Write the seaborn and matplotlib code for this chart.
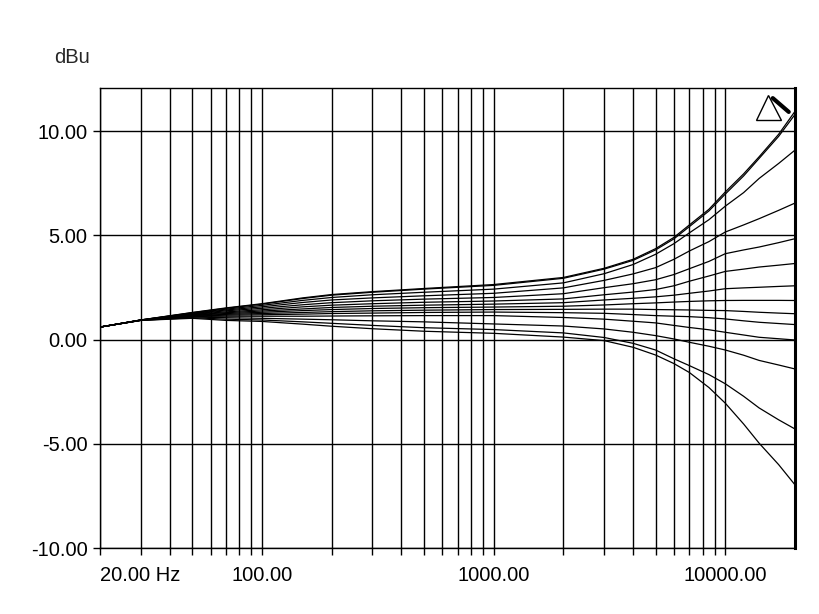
import numpy as np
import pandas as pd
import seaborn as sns
from matplotlib import pyplot as plt
from matplotlib.ticker import FixedLocator, NullFormatter

# frecuencias donde se leyeron los valores (Hz)
freq = [20, 30, 50, 70, 100, 150, 200, 300, 500, 1000, 2000, 3000, 4000, 5000,
        6000, 7000, 8500, 10000, 12000, 14000, 17000, 20000]

# curvas (dBu), de arriba a abajo en 20 kHz
c1 = [0.60, 0.94, 1.30, 1.52, 1.72, 2.00, 2.16, 2.30, 2.45, 2.64, 2.98, 3.42, 3.85, 4.36, 4.90, 5.50, 6.25, 7.08, 7.95, 8.77, 9.85, 10.95]
c2 = [0.60, 0.94, 1.29, 1.50, 1.70, 1.97, 2.13, 2.27, 2.42, 2.60, 2.94, 3.38, 3.80, 4.30, 4.83, 5.42, 6.17, 6.98, 7.85, 8.69, 9.75, 10.80]
c3 = [0.60, 0.94, 1.27, 1.46, 1.64, 1.88, 2.02, 2.15, 2.27, 2.42, 2.72, 3.16, 3.60, 4.09, 4.60, 5.12, 5.75, 6.40, 7.05, 7.73, 8.45, 9.09]
c4 = [0.60, 0.94, 1.25, 1.42, 1.57, 1.78, 1.90, 2.00, 2.10, 2.22, 2.48, 2.84, 3.15, 3.45, 3.85, 4.25, 4.70, 5.16, 5.50, 5.80, 6.20, 6.55]
c5 = [0.60, 0.93, 1.23, 1.38, 1.50, 1.67, 1.77, 1.86, 1.94, 2.02, 2.20, 2.49, 2.68, 2.87, 3.12, 3.40, 3.75, 4.12, 4.30, 4.44, 4.65, 4.84]
c6 = [0.60, 0.93, 1.21, 1.33, 1.43, 1.57, 1.65, 1.72, 1.79, 1.85, 1.95, 2.15, 2.28, 2.40, 2.58, 2.80, 3.05, 3.27, 3.38, 3.48, 3.57, 3.65]
c7 = [0.60, 0.93, 1.19, 1.29, 1.37, 1.47, 1.54, 1.60, 1.65, 1.70, 1.77, 1.90, 1.98, 2.05, 2.13, 2.22, 2.33, 2.44, 2.48, 2.51, 2.55, 2.58]
c8 = [0.60, 0.93, 1.17, 1.25, 1.31, 1.39, 1.44, 1.49, 1.53, 1.56, 1.60, 1.66, 1.72, 1.76, 1.80, 1.83, 1.86, 1.875, 1.88, 1.88, 1.88, 1.875]
c9 = [0.60, 0.93, 1.15, 1.21, 1.25, 1.30, 1.34, 1.38, 1.41, 1.44, 1.45, 1.46, 1.46, 1.44, 1.43, 1.42, 1.40, 1.39, 1.35, 1.31, 1.27, 1.24]
c10 = [0.60, 0.93, 1.13, 1.17, 1.19, 1.22, 1.25, 1.27, 1.30, 1.32, 1.29, 1.26, 1.20, 1.15, 1.12, 1.10, 1.05, 0.99, 0.90, 0.83, 0.77, 0.72]
c11 = [0.60, 0.93, 1.11, 1.12, 1.12, 1.12, 1.13, 1.14, 1.15, 1.15, 1.06, 0.98, 0.88, 0.80, 0.68, 0.58, 0.47, 0.35, 0.22, 0.11, 0.04, -0.02]
c12 = [0.60, 0.92, 1.08, 1.05, 1.02, 0.98, 0.95, 0.90, 0.85, 0.75, 0.65, 0.51, 0.35, 0.19, 0.03, -0.13, -0.32, -0.50, -0.75, -1.00, -1.22, -1.41]
c13 = [0.60, 0.92, 1.05, 0.98, 0.94, 0.85, 0.78, 0.68, 0.57, 0.48, 0.32, 0.10, -0.18, -0.50, -0.92, -1.25, -1.68, -2.12, -2.72, -3.28, -3.85, -4.29]
c14 = [0.60, 0.92, 1.02, 0.92, 0.87, 0.74, 0.64, 0.52, 0.40, 0.30, 0.12, -0.05, -0.37, -0.74, -1.15, -1.58, -2.30, -3.05, -4.05, -4.97, -6.00, -6.97]
curvas = [c1, c2, c3, c4, c5, c6, c7, c8, c9, c10, c11, c12, c13, c14]

ytick_vals = [-10, -5, 0, 5, 10]
ytick_labels = ['-10.00', '-5.00', '0.00', '5.00', '10.00']
xtick_vals = [20, 100, 1000, 10000]
xtick_labels = ['20.00 Hz', '100.00', '1000.00', '10000.00']

filas = []
for i, c in enumerate(curvas):
    for f, v in zip(freq, c):
        filas.append({'freq': f, 'dbu': v, 'curva': 'c%d' % (i + 1)})
data = pd.DataFrame(filas)

sns.set_style('white')
plt.rcParams['font.family'] = ['Liberation Sans', 'DejaVu Sans']

fig = plt.figure(figsize=(8.2, 6.14), dpi=100)
ax = fig.add_axes([100 / 820, 66 / 614, 695 / 820, 460 / 614])
sns.lineplot(data=data, x='freq', y='dbu', hue='curva', palette=['black'] * 14,
             linewidth=0.9, legend=False, ax=ax)
ax.set_xscale('log')
ax.set_xlim(20, 20000)
ax.set_ylim(-10, 12.07)

# rejilla: vertical en cada decada y sub-decada, horizontal cada 5 dB
minors = [m * d for d in [10, 100, 1000] for m in range(2, 10)]
minors = [m for m in minors if m > 20 and m not in xtick_vals]
ax.xaxis.set_major_locator(FixedLocator(xtick_vals))
ax.xaxis.set_minor_locator(FixedLocator(minors))
ax.xaxis.set_minor_formatter(NullFormatter())
ax.set_xticklabels(xtick_labels)
ax.set_yticks(ytick_vals)
ax.set_yticklabels(ytick_labels)
ax.grid(True, which='both', axis='x', color='black', linewidth=1.0)
ax.grid(True, which='major', axis='y', color='black', linewidth=1.0)
ax.tick_params(axis='both', which='both', direction='out', length=5, width=1,
               color='black', labelsize=14.5, labelcolor='black',
               bottom=True, left=True)
ax.tick_params(axis='x', which='major', pad=8)
ax.tick_params(axis='y', which='major', pad=4)
ax.get_xticklabels()[0].set_horizontalalignment('left')

for s in ['left', 'bottom', 'top']:
    ax.spines[s].set_color('black')
    ax.spines[s].set_linewidth(1.0)
ax.spines['right'].set_color('black')
ax.spines['right'].set_linewidth(2.2)

ax.set_xlabel('')
ax.set_ylabel('dBu', rotation=0, fontsize=14.5)
ax.yaxis.set_label_coords(-0.04, 1.045)

# marcador del cursor arriba a la derecha
ax.plot([0.961], [0.958], marker='^', markersize=18, markerfacecolor='white',
        markeredgecolor='black', markeredgewidth=1, transform=ax.transAxes, clip_on=False)
ax.plot([0.968, 0.991], [0.978, 0.948], color='black', linewidth=3,
        transform=ax.transAxes, clip_on=False)

fig.savefig('out.png', dpi=100)
